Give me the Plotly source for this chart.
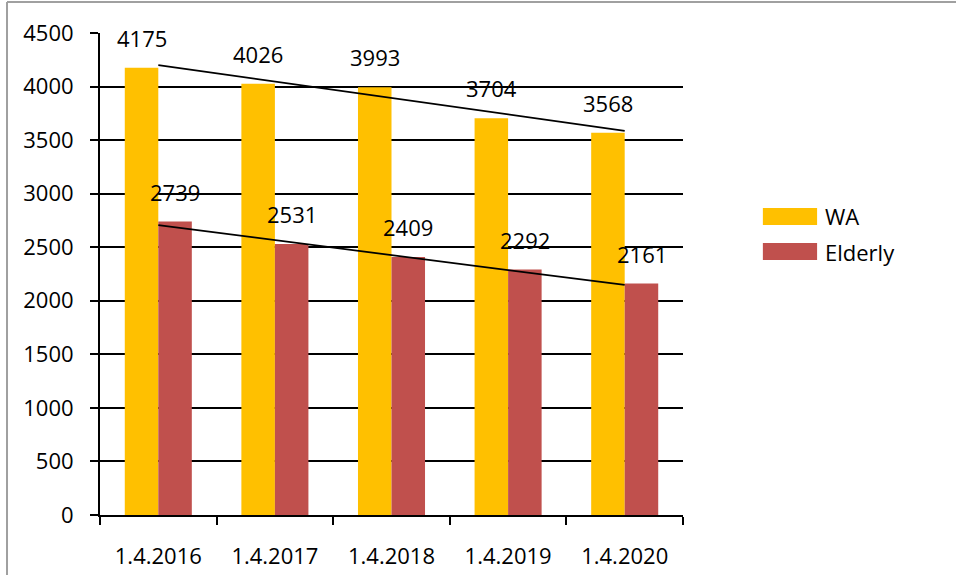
import numpy as np
import plotly.graph_objects as go

categories = ["1.4.2016", "1.4.2017", "1.4.2018", "1.4.2019", "1.4.2020"]
wa_values = [4175, 4026, 3993, 3704, 3568]
elderly_values = [2739, 2531, 2409, 2292, 2161]
series_names = ["WA", "Elderly"]
y_ticks = [0, 500, 1000, 1500, 2000, 2500, 3000, 3500, 4000, 4500]

WA_COLOR = "#FFC000"
EL_COLOR = "#C0504D"
FONT = "Open Sans"

fig = go.Figure()
fig.add_trace(go.Bar(x=categories, y=wa_values, name=series_names[0],
                     marker=dict(color=WA_COLOR, line=dict(width=0)), showlegend=False))
fig.add_trace(go.Bar(x=categories, y=elderly_values, name=series_names[1],
                     marker=dict(color=EL_COLOR, line=dict(width=0)), showlegend=False))

# linear trendlines at category centres
xi = np.arange(1, len(categories) + 1)
for vals in (wa_values, elderly_values):
    m, c = np.polyfit(xi, vals, 1)
    fig.add_trace(go.Scatter(x=[categories[0], categories[-1]],
                             y=[m * xi[0] + c, m * xi[-1] + c],
                             mode="lines", line=dict(color="black", width=1.75),
                             showlegend=False, hoverinfo="skip"))

# data labels
annotations = []
for vals, shift in ((wa_values, -16.8), (elderly_values, 16.8)):
    for cat, v in zip(categories, vals):
        annotations.append(dict(x=cat, y=v, text=str(v), showarrow=False,
                                xref="x", yref="y", xshift=shift, yshift=30,
                                yanchor="middle", xanchor="center",
                                font=dict(family=FONT, size=22, color="black")))

# manual legend
legend_rows = [(series_names[0], WA_COLOR, 0.6017, 0.637),
               (series_names[1], EL_COLOR, 0.529, 0.5643)]
shapes = []
for name, col, y0, y1 in legend_rows:
    shapes.append(dict(type="rect", xref="paper", yref="paper",
                       x0=1.137, x1=1.230, y0=y0, y1=y1,
                       fillcolor=col, line=dict(width=0)))
    annotations.append(dict(x=1.240, y=(y0 + y1) / 2, xref="paper", yref="paper",
                            text=name, showarrow=False, xanchor="left", yanchor="middle",
                            font=dict(family=FONT, size=22, color="black")))

# outer frame (only left and top edges are visible in the picture)
frame = dict(color="#A0A0A0", width=2)
shapes.append(dict(type="line", xref="paper", yref="paper",
                   x0=-0.1595, x1=-0.1595, y0=-0.3, y1=1.0643, line=frame, layer="below"))
shapes.append(dict(type="line", xref="paper", yref="paper",
                   x0=-0.1595, x1=1.7, y0=1.0643, y1=1.0643, line=frame, layer="below"))

fig.update_layout(
    width=956, height=575,
    margin=dict(l=100, r=273, t=33, b=60, autoexpand=False),
    paper_bgcolor="white", plot_bgcolor="white",
    barmode="group", bargap=0.425, bargroupgap=0,
    font=dict(family=FONT, size=22, color="black"),
    annotations=annotations, shapes=shapes,
    xaxis=dict(type="category", showgrid=False, showline=True,
               linecolor="black", linewidth=2, automargin=False,
               ticks="outside", ticklen=8, tickwidth=2, tickcolor="black",
               tickson="boundaries", ticklabelstandoff=21,
               tickfont=dict(family=FONT, size=22, color="black")),
    yaxis=dict(range=[0, 4500], tickvals=y_ticks, showgrid=True,
               gridcolor="black", gridwidth=2, showline=True,
               linecolor="black", linewidth=2, zeroline=False, automargin=False,
               ticks="outside", ticklen=8, tickwidth=2, tickcolor="black",
               ticklabelstandoff=12,
               tickfont=dict(family=FONT, size=22, color="black")),
)

fig.write_html("out.html", config={"displayModeBar": False},
               post_script="document.body.style.margin='0';")
